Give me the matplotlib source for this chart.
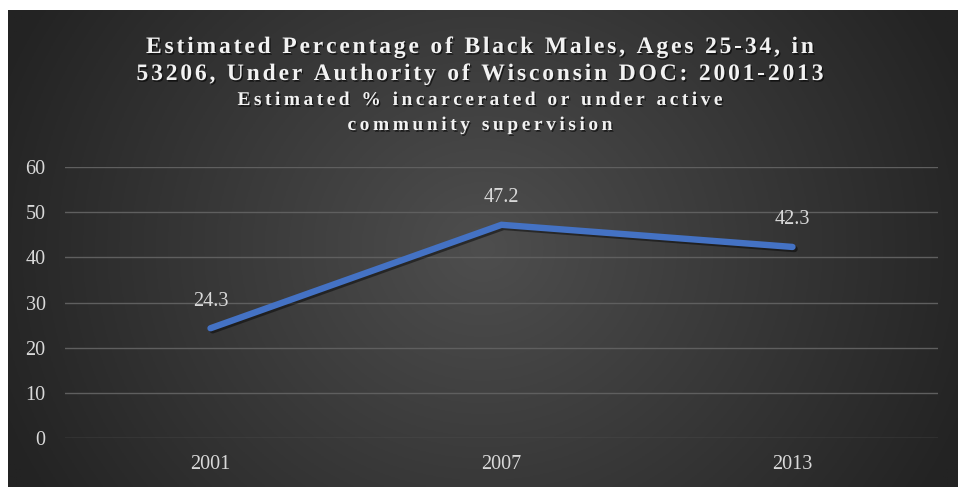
import numpy as np
import matplotlib
matplotlib.use("Agg")
import matplotlib.pyplot as plt
import matplotlib.patheffects as pe
from matplotlib import font_manager
from matplotlib.ft2font import FT2Font

# data
years = ["2001", "2007", "2013"]
pct = [24.3, 47.2, 42.3]
yticks = [0, 10, 20, 30, 40, 50, 60]

title1 = "Estimated Percentage of Black Males, Ages 25-34, in"
title2 = "53206, Under Authority of Wisconsin DOC: 2001-2013"
sub1 = "Estimated % incarcerated or under active"
sub2 = "community supervision"

W, H = 960, 487
fig = plt.figure(figsize=(W / 100, H / 100), dpi=100)
fig.patch.set_facecolor("white")

# background panel with radial gradient
bx0, by0, bx1, by1 = 8, 10, 958, 487
bg = fig.add_axes([bx0 / W, 0, (bx1 - bx0) / W, (by1 - by0) / H])
bg.set_axis_off()
gx, gy = np.meshgrid(np.linspace(-1, 1, 400), np.linspace(-1, 1, 200))
r = np.sqrt(gx ** 2 + (gy * 0.55) ** 2)
r = np.clip(r / 1.1, 0, 1)
inner = np.array([0x4e, 0x4e, 0x4e]) / 255
outer = np.array([0x23, 0x23, 0x23]) / 255
img = inner[None, None, :] * (1 - r[..., None]) + outer[None, None, :] * r[..., None]
bg.imshow(img, aspect="auto", extent=[0, 1, 0, 1])
bg.set_xlim(0, 1)
bg.set_ylim(0, 1)

serif = "Liberation Serif"
txt_col = "#d9d9d9"

ax = fig.add_axes([65 / W, 49 / H, (938 - 65) / W, 271 / H])
ax.patch.set_alpha(0)
x = np.arange(len(years))
ax.plot(x, pct, color="#4472C4", lw=4.6, solid_capstyle="round", solid_joinstyle="miter",
        path_effects=[pe.SimpleLineShadow(offset=(1.5, -1.5), shadow_color="black", alpha=0.45),
                      pe.Normal()], zorder=3)
for xi, v in zip(x, pct):
    ax.annotate(f"{v}", (xi, v), xytext=(0, 19.5), textcoords="offset points",
                ha="center", va="center", color=txt_col, fontsize=14.5, family=serif)

ax.set_xlim(-0.5, 2.5)
ax.set_ylim(0, 60)
ax.set_yticks(yticks)
ax.set_xticks(x)
ax.set_xticklabels(years)
ax.grid(axis="y", color="#5f5f5f", lw=1)
ax.set_axisbelow(True)
for s in ax.spines.values():
    s.set_visible(False)
ax.tick_params(length=0, colors=txt_col, labelsize=14.5)
ax.tick_params(axis="y", pad=14)
ax.tick_params(axis="x", pad=12)
for lab in ax.get_xticklabels() + ax.get_yticklabels():
    lab.set_family(serif)


# title lines drawn letter by letter to get the wide tracking
def spaced_line(s, y_px, size, target_w):
    prop = font_manager.FontProperties(family=serif, weight="bold", size=size)
    ft = FT2Font(font_manager.findfont(prop))
    ft.set_size(size, 100)
    adv = [ft.load_char(ord(c)).linearHoriAdvance / 65536 for c in s]
    gap = (target_w - sum(adv)) / (len(s) - 1)
    xpos = W / 2 - target_w / 2
    for c, a in zip(s, adv):
        if c != " ":
            fig.text((xpos + a / 2) / W, 1 - y_px / H, c, ha="center", va="baseline",
                     color="#f2f2f2", fontproperties=prop,
                     path_effects=[pe.withSimplePatchShadow(offset=(1, -1.2),
                                                           shadow_rgbFace="black", alpha=0.6)])
        xpos += a + gap


spaced_line(title1, 53, 17, 668)
spaced_line(title2, 80, 17, 687)
spaced_line(sub1, 105, 14, 485)
spaced_line(sub2, 130, 14, 265)

fig.savefig("out.png", dpi=100, facecolor=fig.get_facecolor())
